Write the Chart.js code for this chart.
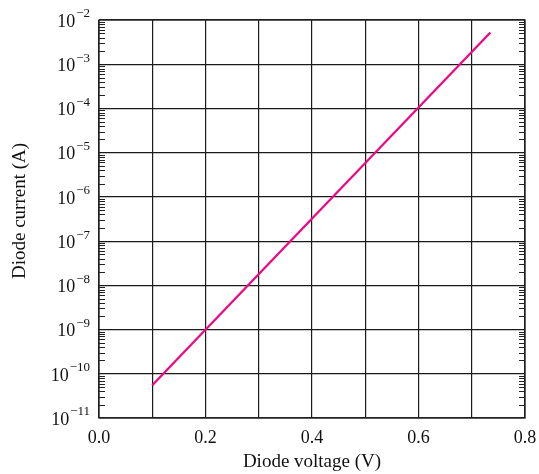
<!DOCTYPE html>
<html>
<head>
<meta charset="utf-8">
<script src="https://cdn.jsdelivr.net/npm/chart.js@4"></script>
<style>
html,body{margin:0;padding:0;background:#fff;}
#wrap{width:539px;height:474px;position:relative;}
</style>
</head>
<body>
<div id="wrap"><canvas id="c" width="539" height="474"></canvas></div>
<script>
// Data
const voltage = [0.1, 0.735];          // Diode voltage (V)
const current = [5.5e-11, 5.2e-3];     // Diode current (A)
const xTickLabels = ['0.0', '', '0.2', '', '0.4', '', '0.6', '', '0.8'];
const yExponents = [-11, -10, -9, -8, -7, -6, -5, -4, -3, -2];
const xTitle = 'Diode voltage (V)';
const yTitle = 'Diode current (A)';

const SERIF = '"Liberation Serif", "Times New Roman", serif';

const decorPlugin = {
  id: 'decor',
  afterDatasetsDraw(chart) {
    const ctx = chart.ctx;
    const ys = chart.scales.y;
    const area = chart.chartArea;
    ctx.save();
    // minor log ticks on left and right borders (inside)
    ctx.strokeStyle = '#222';
    ctx.lineWidth = 1;
    for (let i = 0; i < yExponents.length - 1; i++) {
      for (let k = 2; k <= 9; k++) {
        const v = k * Math.pow(10, yExponents[i]);
        const py = Math.round(ys.getPixelForValue(v)) + 0.5;
        ctx.beginPath();
        ctx.moveTo(area.left, py); ctx.lineTo(area.left + 6, py);
        ctx.moveTo(area.right, py); ctx.lineTo(area.right - 6, py);
        ctx.stroke();
      }
    }
    // border
    ctx.strokeStyle = '#222';
    ctx.lineWidth = 1.3;
    ctx.strokeRect(area.left, area.top, area.right - area.left, area.bottom - area.top);
    // y tick labels with superscripts
    ctx.fillStyle = '#111';
    ctx.textBaseline = 'middle';
    ctx.textAlign = 'right';
    const rightEdge = area.left - 9;
    yExponents.forEach(e => {
      const py = ys.getPixelForValue(Math.pow(10, e));
      const expText = '\u2212' + Math.abs(e);
      ctx.font = '13px ' + SERIF;
      const w = ctx.measureText(expText).width;
      ctx.fillText(expText, rightEdge, py - 6);
      ctx.font = '18px ' + SERIF;
      ctx.fillText('10', rightEdge - w - 1, py + 2);
    });
    // y axis title
    ctx.translate(20, 211);
    ctx.rotate(-Math.PI / 2);
    ctx.textAlign = 'center';
    ctx.textBaseline = 'middle';
    ctx.font = '19px ' + SERIF;
    ctx.fillText(yTitle, 0, 0);
    ctx.restore();
  }
};

new Chart(document.getElementById('c'), {
  type: 'scatter',
  data: {
    datasets: [{
      data: voltage.map((v, i) => ({x: v, y: current[i]})),
      showLine: true,
      borderColor: '#EC0A83',
      borderWidth: 2.3,
      pointRadius: 0,
      fill: false
    }]
  },
  options: {
    responsive: false,
    animation: false,
    events: [],
    layout: {padding: {left: 0, top: 20, right: 14, bottom: 0}},
    plugins: {legend: {display: false}, tooltip: {enabled: false}},
    scales: {
      x: {
        type: 'linear',
        min: 0, max: 0.8,
        afterFit(s) { s.height = 56; s.paddingLeft = 0; s.paddingRight = 0; },
        afterBuildTicks(s) {
          s.ticks = xTickLabels.map((t, i) => ({value: i * 0.1}));
        },
        border: {display: false},
        grid: {color: '#1a1a1a', lineWidth: 1.2, drawTicks: false},
        ticks: {
          autoSkip: false,
          maxRotation: 0,
          padding: 9,
          color: '#111',
          font: {family: SERIF, size: 18},
          callback: (v, i) => xTickLabels[i]
        },
        title: {
          display: true,
          text: xTitle,
          color: '#111',
          font: {family: SERIF, size: 19},
          padding: {top: 1, bottom: 1}
        }
      },
      y: {
        type: 'logarithmic',
        min: 1e-11, max: 1e-2,
        afterFit(s) { s.width = 99; s.paddingTop = 0; s.paddingBottom = 0; },
        afterBuildTicks(s) {
          s.ticks = yExponents.map(e => ({value: Math.pow(10, e)}));
        },
        border: {display: false},
        grid: {color: '#1a1a1a', lineWidth: 1.2, drawTicks: false},
        ticks: {display: false},
        title: {display: false}
      }
    }
  },
  plugins: [decorPlugin]
});
</script>
</body>
</html>
